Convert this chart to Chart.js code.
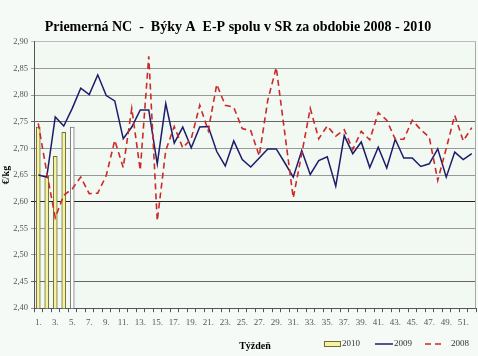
<!DOCTYPE html>
<html><head><meta charset="utf-8">
<script src="https://cdn.jsdelivr.net/npm/chart.js@4/dist/chart.umd.min.js"></script>
<style>html,body{margin:0;padding:0;background:#f6faf6}#w{width:478px;height:356px}canvas{display:block}</style>
</head><body><div id="w"><canvas id="c"></canvas></div>
<script>
const weeks = ["1.","2.","3.","4.","5.","6.","7.","8.","9.","10.","11.","12.","13.","14.","15.","16.","17.","18.","19.","20.","21.","22.","23.","24.","25.","26.","27.","28.","29.","30.","31.","32.","33.","34.","35.","36.","37.","38.","39.","40.","41.","42.","43.","44.","45.","46.","47.","48.","49.","50.","51.","52."];
const values2010 = [2.740, 2.648, 2.685, 2.730, 2.740];
const values2009 = [2.650,2.646,2.759,2.742,2.775,2.813,2.801,2.838,2.799,2.789,2.718,2.740,2.772,2.772,2.671,2.784,2.710,2.740,2.701,2.740,2.741,2.694,2.667,2.714,2.679,2.665,2.682,2.699,2.699,2.673,2.646,2.696,2.651,2.677,2.684,2.629,2.724,2.690,2.712,2.664,2.702,2.663,2.717,2.682,2.682,2.666,2.671,2.699,2.646,2.693,2.679,2.690];
const values2008 = [2.747,2.655,2.570,2.612,2.624,2.646,2.615,2.616,2.649,2.715,2.664,2.775,2.659,2.873,2.564,2.696,2.741,2.701,2.718,2.781,2.733,2.820,2.781,2.777,2.737,2.733,2.686,2.790,2.852,2.729,2.607,2.690,2.775,2.718,2.742,2.723,2.735,2.698,2.732,2.716,2.767,2.753,2.717,2.717,2.753,2.735,2.721,2.640,2.700,2.762,2.714,2.739];
const seriesNames = ["2010","2009","2008"];
const titleText = "Priemerná NC  -  Býky A  E-P spolu v SR za obdobie 2008 - 2010";
const yTitle = "€/kg";
const xTitle = "Týždeň";

const SERIF = "'Liberation Serif', 'Times New Roman', serif";
const barFill = values2010.map((v,i)=> i < values2010.length-1 ? '#f6f2a0' : '#ffffff');
const barBorder = values2010.map((v,i)=> i < values2010.length-1 ? '#6b6b3a' : '#777777');

const bgPlugin = {
  id:'bg',
  beforeDraw(chart){
    const {ctx,width,height} = chart;
    ctx.save(); ctx.fillStyle='#f6faf6'; ctx.fillRect(0,0,width,height);
    const a = chart.chartArea;
    ctx.fillStyle='#f2f8f2'; ctx.fillRect(a.left,a.top,a.right-a.left,a.bottom-a.top);
    ctx.restore();
  },
  afterDraw(chart){
    const {ctx} = chart; const a = chart.chartArea;
    ctx.save();
    ctx.strokeStyle='#aaaaaa'; ctx.lineWidth=1;
    ctx.beginPath(); ctx.moveTo(a.right-0.5,a.top); ctx.lineTo(a.right-0.5,a.bottom); ctx.stroke();
    const y = 344;
    ctx.font = "9px " + SERIF; ctx.fillStyle='#333'; ctx.textBaseline='middle';
    const ds = chart.data.datasets;
    let x = a.right - 152;
    ctx.fillStyle='#f6f2a0'; ctx.fillRect(x, y-2, 16, 4);
    ctx.strokeStyle='#6b6b3a'; ctx.strokeRect(x+0.5, y-2.5, 16, 5);
    ctx.fillStyle='#333'; ctx.fillText(ds[0].label, x+18, y);
    x = a.right - 101;
    ctx.strokeStyle=ds[1].borderColor; ctx.lineWidth=1.5;
    ctx.beginPath(); ctx.moveTo(x,y); ctx.lineTo(x+18,y); ctx.stroke();
    ctx.fillText(ds[1].label, x+19, y);
    x = a.right - 51;
    ctx.strokeStyle=ds[2].borderColor; ctx.lineWidth=1.5; ctx.setLineDash([6,4]);
    ctx.beginPath(); ctx.moveTo(x,y); ctx.lineTo(x+20,y); ctx.stroke();
    ctx.setLineDash([]);
    ctx.fillText(ds[2].label, x+26, y);
    ctx.restore();
  }
};

new Chart(document.getElementById('c'), {
  data:{
    labels: weeks,
    datasets:[
      {type:'bar', label:seriesNames[0], data:values2010, backgroundColor:barFill, borderColor:barBorder, borderWidth:1, barThickness:4, order:3},
      {type:'line', label:seriesNames[1], data:values2009, borderColor:'#1c1c6a', borderWidth:1.5, pointRadius:0, tension:0, order:2},
      {type:'line', label:seriesNames[2], data:values2008, borderColor:'#cc2a2a', borderWidth:1.6, borderDash:[6,4], pointRadius:0, tension:0, order:1}
    ]
  },
  options:{
    responsive:true, maintainAspectRatio:false, animation:false,
    layout:{padding:{left:0,right:2,top:4,bottom:0}},
    plugins:{
      legend:{display:false}, tooltip:{enabled:false},
      title:{display:true, text:titleText, color:'#000', font:{family:SERIF, size:14, weight:'bold'}, padding:{top:15,bottom:6}}
    },
    scales:{
      x:{
        offset:true,
        grid:{display:true, offset:true, drawOnChartArea:false, drawTicks:true, tickLength:4, color:'#555'},
        border:{display:true, color:'#555'},
        ticks:{autoSkip:false, maxRotation:0, color:'#555', font:{family:SERIF, size:9}, padding:5,
          callback:function(v,i){ return i%2===0 ? this.getLabelForValue(v) : ''; }},
        title:{display:true, text:xTitle, color:'#000', font:{family:SERIF, size:10, weight:'bold'}, padding:{top:7,bottom:4}}
      },
      y:{
        min:2.40, max:2.90,
        afterFit:(s)=>{ s.width = 34; },
        ticks:{stepSize:0.05, color:'#555', font:{family:SERIF, size:8.5}, padding:3,
          callback:(v)=>Number(v).toFixed(2).replace('.',',')},
        grid:{drawTicks:true, tickLength:3, color:(c)=>{
          const v = Math.round(c.tick.value*100);
          if (v===260) return '#222';
          if (v===275 || v===245) return '#666';
          if (v===290) return '#bbb';
          return '#999';
        }},
        border:{display:true, color:'#555'},
        title:{display:true, text:yTitle, color:'#000', font:{family:SERIF, size:10, weight:'bold'}, padding:{top:0,bottom:1}}
      }
    }
  },
  plugins:[bgPlugin]
});
</script>
</body></html>
